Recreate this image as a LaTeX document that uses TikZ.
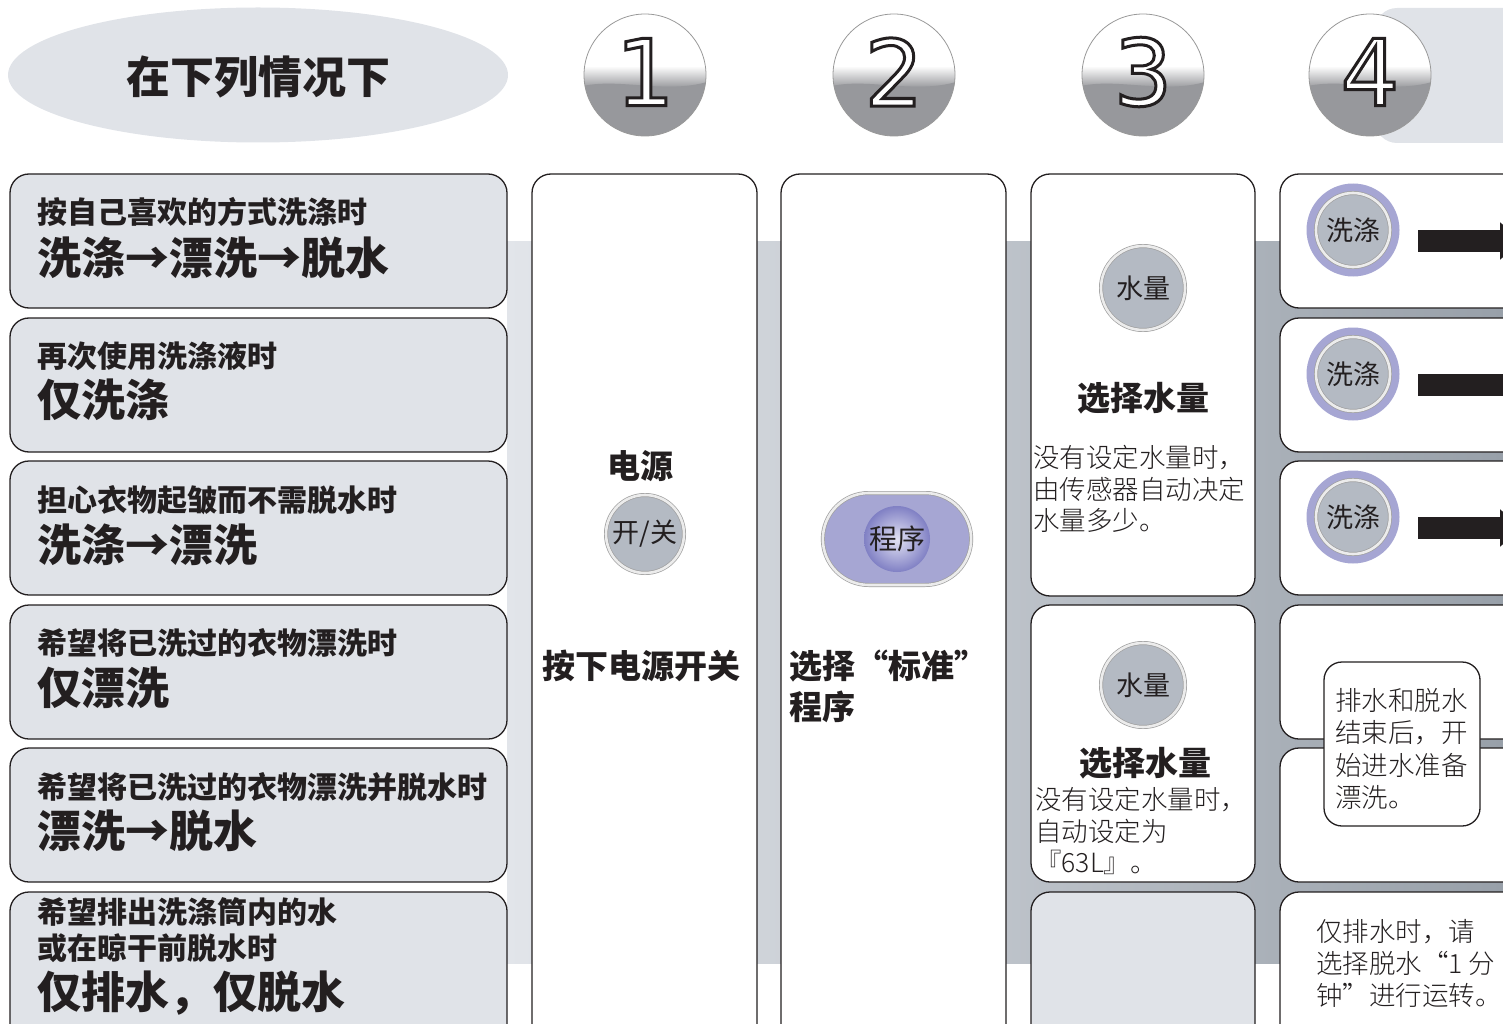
\documentclass[tikz,border=0pt]{standalone}
\usepackage{fontspec}
\usepackage{tikz}
\usetikzlibrary{shapes.geometric, shapes.misc, arrows.meta, positioning, calc}
\newfontfamily\cjk{Noto Sans CJK SC}
\IfFontExistsTF{Noto Sans CJK SC Light}
    {\newfontfamily\cjklight{Noto Sans CJK SC Light}}
    {\newfontfamily\cjklight{Noto Sans CJK SC}}
\newfontfamily\digitfont{DejaVu Sans}
% white digit with a dark rim (fill + stroke text mode)
\newcommand{\rimdigit}[1]{\special{pdf:literal direct 2 Tr 3 w 0.137 0.122 0.125 RG}#1\special{pdf:literal direct 0 Tr}}
\definecolor{panelgray}{RGB}{224, 227, 232}
\definecolor{bandlight}{RGB}{226, 229, 234}
\definecolor{banddark}{RGB}{152, 160, 169}
\definecolor{btngray}{RGB}{180, 186, 195}
\definecolor{ringlav}{RGB}{166, 166, 211}
\definecolor{progin}{RGB}{226, 226, 243}
\definecolor{progout}{RGB}{128, 128, 196}
\definecolor{digitgray}{RGB}{151, 152, 156}
\definecolor{inkblack}{RGB}{35, 31, 32}

\begin{document}
\begin{tikzpicture}[x=1pt, y=-1pt,
    panel/.style={draw=inkblack, line width=1.3pt, rounded corners=19pt},
    casebox/.style={panel, fill=panelgray},
    stepbox/.style={panel, fill=white},
    caselabel/.style={anchor=west, inner sep=0pt, text=inkblack, font=\cjk\bfseries\fontsize{30}{36}\selectfont},
    casemain/.style={anchor=west, inner sep=0pt, text=inkblack, font=\cjk\bfseries\fontsize{44}{44}\selectfont},
    steptitle/.style={inner sep=0pt, text=inkblack, font=\cjk\bfseries\fontsize{33}{41}\selectfont},
    stepnote/.style={anchor=west, align=left, inner sep=0pt, text=inkblack, font=\cjklight\fontsize{26.5}{31.5}\selectfont},
    btn/.style={circle, minimum size=#1, inner sep=0pt, fill=btngray, draw=gray!75, line width=0.7pt,
        double=white!85!gray, double distance=2.6pt, text=inkblack, font=\cjk\fontsize{27}{27}\selectfont},
    digit/.style={inner sep=0pt, text=white, font=\digitfont\fontsize{92}{92}\selectfont},
    washarrow/.style={line width=22pt, inkblack, -{Triangle[width=36pt, length=22pt]}}
  ]
    \useasboundingbox (0,0) rectangle (1503,1024);
    \clip (0,0) rectangle (1503,1024);

    % backdrop behind step 4 and the grey band behind the columns
    \fill[panelgray, rounded corners=22pt] (1375,8) rectangle (1560,143);
    \shade[left color=bandlight, right color=banddark] (507,242) rectangle (1503,963);

    % heading oval
    \node[ellipse, fill=panelgray, minimum width=500pt, minimum height=135pt, inner sep=0pt] (titleoval) at (258,75) {};
    \node[inner sep=0pt, text=inkblack, font=\cjk\bfseries\fontsize{44}{44}\selectfont] (titletext) at (258,77) {在下列情况下};

    % step numbers
    \foreach \n/\cx in {1/645, 2/894, 3/1143, 4/1370} {
        \begin{scope}
            \clip (\cx,75) circle (61pt);
            \fill[white] (\cx-62,12) rectangle (\cx+62,138);
            \shade[top color=white, bottom color=digitgray] (\cx-62,66) rectangle (\cx+62,88);
            \fill[digitgray] (\cx-62,86) .. controls (\cx-25,78) and (\cx+20,94) .. (\cx+62,82)
                -- (\cx+62,138) -- (\cx-62,138) -- cycle;
        \end{scope}
        \draw[gray!80, line width=0.8pt] (\cx,75) circle (61pt);
        \node[digit] (num\n) at (\cx,72) {\rimdigit{\n}};
    }

    % left column: cases
    \foreach \t in {174, 318, 461, 605, 748}
        \draw[casebox] (10,\t) rectangle (507,\t+134);
    \draw[casebox] (10,892) rectangle (507,1045);

    \node[caselabel] (case1a) at (37,212) {按自己喜欢的方式洗涤时};
    \node[casemain] (case1b) at (37,258) {洗涤→漂洗→脱水};
    \node[caselabel] (case2a) at (37,356) {再次使用洗涤液时};
    \node[casemain] (case2b) at (37,400) {仅洗涤};
    \node[caselabel] (case3a) at (37,500) {担心衣物起皱而不需脱水时};
    \node[casemain] (case3b) at (37,545) {洗涤→漂洗};
    \node[caselabel] (case4a) at (37,643) {希望将已洗过的衣物漂洗时};
    \node[casemain] (case4b) at (37,688) {仅漂洗};
    \node[caselabel] (case5a) at (37,787) {希望将已洗过的衣物漂洗并脱水时};
    \node[casemain] (case5b) at (37,831) {漂洗→脱水};
    \node[caselabel, align=left] (case6a) at (37,930) {希望排出洗涤筒内的水\\或在晾干前脱水时};
    \node[casemain] (case6b) at (37,993) {仅排水，仅脱水};

    % step 1
    \draw[stepbox] (532,174) rectangle (757,1045);
    \node[steptitle] (power) at (640,466) {电源};
    \node[btn=78pt] (onoff) at (645,534) {开/关};
    \node[steptitle] (presspower) at (641,666) {按下电源开关};

    % step 2
    \draw[stepbox] (781,174) rectangle (1006,1045);
    \node[rounded rectangle, minimum width=155pt, minimum height=92pt, fill=ringlav, draw=gray!75, line width=0.7pt,
        double=white!85!gray, double distance=2.6pt] (progpill) at (897,539) {};
    \node[circle, minimum size=66pt, inner sep=0pt, inner color=progin, outer color=progout,
        text=inkblack, font=\cjk\fontsize{28}{28}\selectfont] (prog) at (progpill) {程序};
    \node[steptitle, anchor=west, align=left] (pickstd) at (789,686) {选择“标准”\\程序};

    % step 3
    \draw[stepbox] (1031,174) rectangle (1255,596);
    \draw[stepbox] (1031,605) rectangle (1255,882);
    \draw[casebox] (1031,892) rectangle (1255,1045);
    \node[btn=84pt] (level1) at (1143,288) {水量};
    \node[steptitle] (pick1) at (1143,398) {选择水量};
    \node[stepnote] (note1) at (1033,489) {没有设定水量时，\\由传感器自动决定\\水量多少。};
    \node[btn=84pt] (level2) at (1143,685) {水量};
    \node[steptitle] (pick2) at (1145,763) {选择水量};
    \node[stepnote] (note2) at (1035,831) {没有设定水量时，\\自动设定为\\『63L』。};

    % step 4
    \foreach \t in {174, 318, 461, 605, 748}
        \draw[stepbox] (1280,\t) rectangle (1560,\t+134);
    \draw[stepbox] (1280,892) rectangle (1560,1045);
    \foreach \i/\cy/\tip in {1/230/1522, 2/374/1548, 3/517/1522} {
        \node[circle, minimum size=93pt, inner sep=0pt, fill=ringlav] (halo\i) at (1353,\cy) {};
        \node[btn=74pt] (wash\i) at (halo\i) {洗涤};
        \coordinate (wend\i) at (\tip,\cy+11);
        \draw[washarrow] (wash\i.east |- wend\i) ++(28pt,0) -- (wend\i);
    }
    \node[draw=inkblack, line width=1.3pt, fill=white, rounded corners=18pt, minimum width=156pt,
        minimum height=164pt] (drainbox) at (1402,744) {};
    \node[text width=134pt, align=left, inner sep=0pt, text=inkblack, font=\cjklight\fontsize{26.5}{32.5}\selectfont]
        (drainnote) at (1402,749) {排水和脱水\\结束后，开\\始进水准备\\漂洗。};
    \node[stepnote, font=\cjklight\fontsize{26.5}{32}\selectfont] (spinnote) at (1316,963) {仅排水时，请\\选择脱水“1 分\\钟”进行运转。};
\end{tikzpicture}
\end{document}
